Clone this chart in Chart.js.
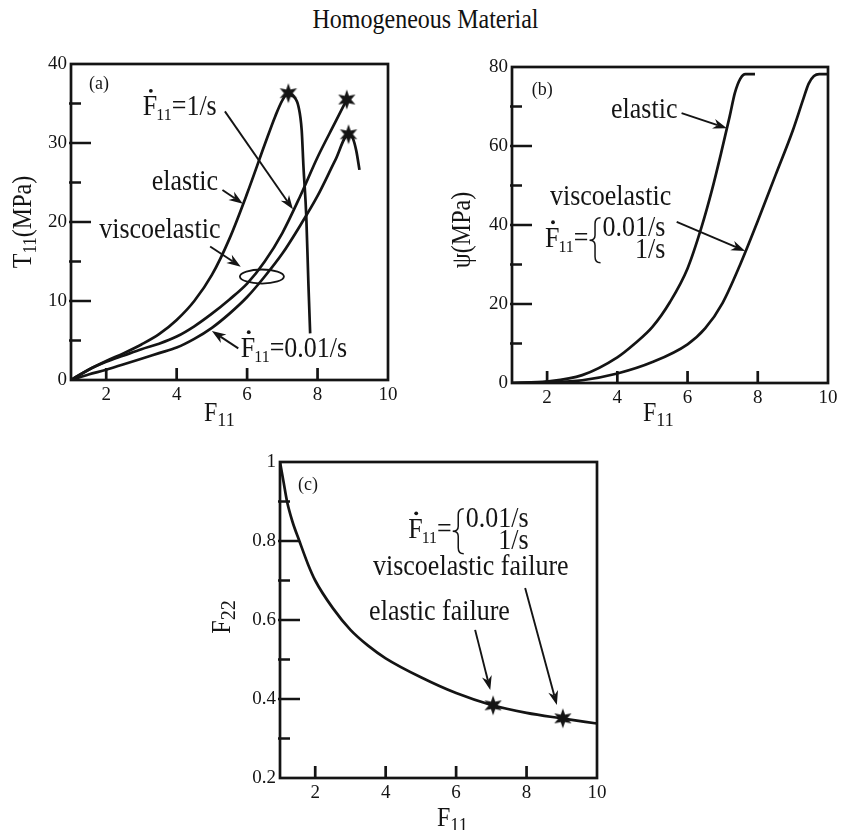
<!DOCTYPE html>
<html>
<head>
<meta charset="utf-8">
<title>Homogeneous Material</title>
<script src="https://cdn.jsdelivr.net/npm/chart.js@4.4.0/dist/chart.umd.min.js"></script>
<style>
  body { margin: 0; background: #fff; }
  #wrap { position: relative; width: 851px; height: 830px; overflow: hidden; }
  #title { position: absolute; left: 0; top: 8px; width: 851px; text-align: center;
           font: 24px/24px 'Liberation Serif', 'Times New Roman', serif; color: #111;
           transform: scaleY(1.15); transform-origin: center 20px; }
  canvas { position: absolute; }
</style>
</head>
<body>
<div id="wrap">
  <div id="title">Homogeneous Material</div>
  <canvas id="chartA" width="420" height="390" style="left:0;top:40px"></canvas>
  <canvas id="chartB" width="421" height="390" style="left:430px;top:40px"></canvas>
  <canvas id="chartC" width="420" height="395" style="left:200px;top:440px"></canvas>
</div>
<script>
const SERIF = "'Liberation Serif', 'Times New Roman', serif";
const INK = '#141414';
const STRETCH = 1.1;

// (a) T11 vs F11
const aXTicks = [2, 4, 6, 8, 10];
const aYTicks = [0, 10, 20, 30, 40];
const aYMinor = [5, 15, 25, 35];
const aElasticF = [1, 1.5, 2, 2.5, 3, 3.5, 4, 4.5, 5, 5.5, 6, 6.5, 6.8, 7.0, 7.17, 7.32, 7.46, 7.55, 7.6, 7.68, 7.74, 7.79];
const aElasticT = [0, 1.3, 2.4, 3.4, 4.5, 5.8, 7.6, 10.0, 13.3, 17.9, 23.6, 29.8, 33.4, 35.4, 36.3, 35.9, 34.6, 31.6, 27.0, 20.7, 12.2, 5.9];
const aVisc1F = [1, 1.5, 2, 2.5, 3, 3.5, 4, 4.5, 5, 5.5, 6, 6.5, 7, 7.5, 8, 8.5, 8.83];
const aVisc1T = [0, 1.3, 2.3, 3.1, 3.9, 4.6, 5.5, 6.8, 8.4, 10.2, 12.2, 15.0, 18.6, 23.2, 28.2, 32.6, 35.5];
const aVisc001F = [1, 1.5, 2, 2.5, 3, 3.5, 4, 4.5, 5, 5.5, 6, 6.5, 7, 7.5, 8, 8.5, 8.88, 9.0, 9.1, 9.19];
const aVisc001T = [0, 0.7, 1.3, 2.0, 2.7, 3.4, 4.1, 5.2, 6.6, 8.4, 10.5, 13.1, 16.0, 19.5, 23.3, 27.8, 31.1, 30.6, 29.0, 26.6];
const aFailF = [7.17, 8.83, 8.88];
const aFailT = [36.3, 35.5, 31.1];

// (b) psi vs F11
const bXTicks = [2, 4, 6, 8, 10];
const bYTicks = [0, 20, 40, 60, 80];
const bYMinor = [10, 30, 50, 70];
const bElasticF = [1, 2, 3, 4, 4.5, 5, 5.5, 6, 6.4, 6.7, 6.95, 7.2, 7.35, 7.5, 7.65, 7.92];
const bElasticPsi = [0, 0.4, 2, 6.5, 10, 14.2, 20.5, 29, 39.5, 49, 58, 67.5, 73.5, 77, 78.2, 78.2];
const bViscF = [1, 2, 3, 4, 5, 6, 6.5, 7, 7.5, 8, 8.5, 9, 9.3, 9.45, 9.6, 9.75, 10];
const bViscPsi = [0, 0.15, 0.7, 2.4, 5.3, 9.8, 13.8, 20.3, 30, 41, 52.5, 64, 72, 75.8, 77.7, 78.2, 78.2];

// (c) F22 vs F11
const cXTicks = [2, 4, 6, 8, 10];
const cYTicks = [0.2, 0.4, 0.6, 0.8, 1];
const cYMinor = [0.3, 0.5, 0.7, 0.9];
const cF11 = [1, 1.1, 1.2, 1.35, 1.55, 1.8, 2, 2.5, 3, 3.5, 4, 5, 6, 7, 8, 9, 10];
const cF22 = [1, 0.95, 0.9, 0.85, 0.8, 0.74, 0.7, 0.63, 0.575, 0.535, 0.503, 0.455, 0.415, 0.385, 0.365, 0.351, 0.338];
const cFailF = [7.05, 9.03];
const cFailF22 = [0.384, 0.351];

function pts(xs, ys) {
    return xs.map((x, i) => ({ x: x, y: ys[i] }));
}

function curve(xs, ys) {
    return {
        data: pts(xs, ys), borderColor: INK, borderWidth: 2.7, pointRadius: 0,
        fill: false, cubicInterpolationMode: 'monotone', order: 1
    };
}

function starImage() {
    const c = document.createElement('canvas');
    c.width = 22; c.height = 22;
    const g = c.getContext('2d');
    g.fillStyle = INK;
    g.beginPath();
    for (let i = 0; i < 12; i++) {
        const r = i % 2 === 0 ? 10 : 4.3;
        const a = -Math.PI / 2 + i * Math.PI / 6;
        g.lineTo(11 + r * Math.cos(a), 11 + r * Math.sin(a));
    }
    g.closePath();
    g.fill();
    return c;
}
const STAR = starImage();

function stars(xs, ys) {
    return { data: pts(xs, ys), showLine: false, pointStyle: STAR, pointRadius: 8, order: 0 };
}

// --- drawing helpers for the annotations ---
function put(ctx, str, x, y) {
    ctx.save();
    ctx.translate(x, y);
    ctx.scale(1, STRETCH);
    ctx.fillText(str, 0, 0);
    ctx.restore();
}

function text(ctx, str, x, y, size) {
    ctx.font = size + 'px ' + SERIF;
    put(ctx, str, x, y);
}

function rateSymbol(ctx, x, y) {
    ctx.font = '26px ' + SERIF;
    put(ctx, 'F', x, y);
    const w = ctx.measureText('F').width;
    ctx.beginPath();
    ctx.arc(x + 8, y - 24.5, 1.9, 0, Math.PI * 2);
    ctx.fill();
    ctx.font = '16px ' + SERIF;
    put(ctx, '11', x + w - 1, y + 5);
    return x + w - 1 + ctx.measureText('11').width;
}

function rateLabel(ctx, x, y, rate) {
    const x1 = rateSymbol(ctx, x, y);
    text(ctx, '=' + rate, x1, y, 26);
}

function brace(ctx, x, top, bottom, w) {
    const mid = (top + bottom) / 2, c = x + w / 2;
    ctx.beginPath();
    ctx.moveTo(x + w, top);
    ctx.quadraticCurveTo(c, top, c, top + 6);
    ctx.lineTo(c, mid - 5);
    ctx.quadraticCurveTo(c, mid, x, mid);
    ctx.quadraticCurveTo(c, mid, c, mid + 5);
    ctx.lineTo(c, bottom - 6);
    ctx.quadraticCurveTo(c, bottom, x + w, bottom);
    ctx.lineWidth = 1.5;
    ctx.stroke();
}

function rateBrace(ctx, x, y) {
    let x1 = rateSymbol(ctx, x, y);
    ctx.font = '26px ' + SERIF;
    put(ctx, '=', x1, y);
    x1 += ctx.measureText('=').width + 1;
    brace(ctx, x1, y - 29, y + 16, 11);
    put(ctx, '0.01/s', x1 + 13, y - 11);
    const right = x1 + 13 + ctx.measureText('0.01/s').width;
    ctx.textAlign = 'right';
    put(ctx, '1/s', right, y + 11);
    ctx.textAlign = 'left';
}

function arrow(ctx, x0, y0, x1, y1) {
    const a = Math.atan2(y1 - y0, x1 - x0);
    const L = 14, W = 5, cs = Math.cos(a), sn = Math.sin(a);
    ctx.lineWidth = 1.9;
    ctx.beginPath();
    ctx.moveTo(x0, y0);
    ctx.lineTo(x1 - L * 0.7 * cs, y1 - L * 0.7 * sn);
    ctx.stroke();
    ctx.beginPath();
    ctx.moveTo(x1, y1);
    ctx.lineTo(x1 - L * cs + W * sn, y1 - L * sn - W * cs);
    ctx.lineTo(x1 - L * 0.7 * cs, y1 - L * 0.7 * sn);
    ctx.lineTo(x1 - L * cs - W * sn, y1 - L * sn + W * cs);
    ctx.closePath();
    ctx.fill();
}

// axis title: main letter plus a subscript, optional tail
function axisTitle(ctx, x, y, main, sub, tail, subSize) {
    ctx.font = '24px ' + SERIF;
    put(ctx, main, x, y);
    let cx = x + ctx.measureText(main).width;
    ctx.font = subSize + 'px ' + SERIF;
    put(ctx, sub, cx, y + 5);
    cx += ctx.measureText(sub).width;
    if (tail) {
        ctx.font = '24px ' + SERIF;
        put(ctx, tail, cx, y);
    }
}

function titleWidth(ctx, main, sub, tail, subSize) {
    ctx.font = '24px ' + SERIF;
    let w = ctx.measureText(main).width + (tail ? ctx.measureText(tail).width : 0);
    ctx.font = subSize + 'px ' + SERIF;
    return w + ctx.measureText(sub).width;
}

function drawFrame(chart, p) {
    const ctx = chart.ctx, a = chart.chartArea;
    const sx = chart.scales.x, sy = chart.scales.y;
    ctx.save();
    ctx.strokeStyle = INK;
    ctx.lineWidth = 2.7;
    ctx.strokeRect(a.left, a.top, a.right - a.left, a.bottom - a.top);
    ctx.beginPath();
    p.xTicks.forEach(v => {
        if (v > sx.min && v < sx.max) {
            const x = sx.getPixelForValue(v);
            ctx.moveTo(x, a.bottom);
            ctx.lineTo(x, a.bottom - 12);
        }
    });
    p.yTicks.forEach(v => {
        if (v > sy.min && v < sy.max) {
            const y = sy.getPixelForValue(v);
            ctx.moveTo(a.left - 2, y);
            ctx.lineTo(a.left + 20, y);
        }
    });
    p.yMinor.forEach(v => {
        const y = sy.getPixelForValue(v);
        ctx.moveTo(a.left - 2, y);
        ctx.lineTo(a.left + 10, y);
    });
    ctx.stroke();
    ctx.restore();
}

function makePanel(id, p) {
    const deco = {
        id: 'deco',
        afterDraw(chart) {
            drawFrame(chart, p);
            const ctx = chart.ctx, a = chart.chartArea;
            const X = v => chart.scales.x.getPixelForValue(v);
            const Y = v => chart.scales.y.getPixelForValue(v);
            ctx.save();
            ctx.fillStyle = INK;
            ctx.strokeStyle = INK;
            ctx.textBaseline = 'alphabetic';
            // x title
            axisTitle(ctx, (a.left + a.right) / 2 + p.xTitleDx, a.bottom + p.xTitleDy, 'F', '11', '', 18);
            // y title, rotated
            const yt = p.yTitle;
            const w = titleWidth(ctx, yt[0], yt[1], yt[2], yt[3]);
            ctx.save();
            ctx.translate(p.yTitleX, (a.top + a.bottom) / 2 + p.yTitleDy);
            ctx.rotate(-Math.PI / 2);
            axisTitle(ctx, -w / 2, 0, yt[0], yt[1], yt[2], yt[3]);
            ctx.restore();
            p.annotate(ctx, X, Y);
            ctx.restore();
        }
    };
    return new Chart(document.getElementById(id), {
        type: 'line',
        data: { datasets: p.datasets },
        options: {
            responsive: false,
            animation: false,
            events: [],
            layout: { padding: { top: p.padTop, right: p.padRight, left: 0, bottom: 0 } },
            plugins: { legend: { display: false }, tooltip: { enabled: false } },
            scales: {
                x: {
                    type: 'linear', min: 1, max: 10,
                    grid: { display: false, drawTicks: false },
                    border: { display: false },
                    ticks: { padding: 4, color: INK, maxRotation: 0, autoSkip: false,
                             font: { family: SERIF, size: 19 }, callback: v => String(v) },
                    afterBuildTicks: s => { s.ticks = p.xTicks.map(v => ({ value: v })); },
                    afterFit: s => { s.height = p.xAxisHeight; }
                },
                y: {
                    type: 'linear', min: p.yTicks[0], max: p.yTicks[p.yTicks.length - 1],
                    grid: { display: false, drawTicks: false },
                    border: { display: false },
                    ticks: { padding: 4, color: INK, autoSkip: false,
                             font: { family: SERIF, size: 19 }, callback: v => String(v) },
                    afterBuildTicks: s => { s.ticks = p.yTicks.map(v => ({ value: v })); },
                    afterFit: s => { s.width = p.yAxisWidth; }
                }
            }
        },
        plugins: [deco]
    });
}

makePanel('chartA', {
    xTicks: aXTicks, yTicks: aYTicks, yMinor: aYMinor,
    yAxisWidth: 71, xAxisHeight: 50, padTop: 24, padRight: 32,
    xTitleDx: -25.5, xTitleDy: 41, yTitleX: 31, yTitleDy: 0,
    yTitle: ['T', '11', '(MPa)', 17],
    datasets: [
        curve(aElasticF, aElasticT),
        curve(aVisc1F, aVisc1T),
        curve(aVisc001F, aVisc001T),
        stars(aFailF, aFailT)
    ],
    annotate(ctx, X, Y) {
        text(ctx, '(a)', X(1.51), Y(36.8), 18);
        rateLabel(ctx, X(3.04), Y(33.5), '1/s');
        text(ctx, 'elastic', X(3.29), Y(24.05), 26);
        text(ctx, 'viscoelastic', X(1.8), Y(18.0), 26);
        rateLabel(ctx, X(5.82), Y(2.95), '0.01/s');
        arrow(ctx, X(5.37), Y(34.0), X(7.30), Y(21.6));
        arrow(ctx, X(5.3), Y(24.05), X(5.88), Y(22.3));
        arrow(ctx, X(4.95), Y(16.9), X(5.82), Y(14.35));
        arrow(ctx, X(5.75), Y(4.0), X(5.0), Y(6.2));
        ctx.lineWidth = 1.8;
        ctx.beginPath();
        ctx.ellipse(X(6.42), Y(13.1), X(7.045) - X(6.42), Y(12.21) - Y(13.1), 0, 0, Math.PI * 2);
        ctx.stroke();
    }
});

makePanel('chartB', {
    xTicks: bXTicks, yTicks: bYTicks, yMinor: bYMinor,
    yAxisWidth: 82, xAxisHeight: 47, padTop: 27, padRight: 23,
    xTitleDx: -27, xTitleDy: 38, yTitleX: 40, yTitleDy: 5,
    yTitle: ['\u03c8', '', '(MPa)', 17],
    datasets: [
        curve(bElasticF, bElasticPsi),
        curve(bViscF, bViscPsi)
    ],
    annotate(ctx, X, Y) {
        text(ctx, '(b)', X(1.56), Y(72.9), 18);
        text(ctx, 'elastic', X(3.82), Y(67.0), 26);
        text(ctx, 'viscoelastic', X(2.08), Y(45.1), 26);
        rateBrace(ctx, X(1.94), Y(34.5));
        arrow(ctx, X(5.83), Y(68.3), X(7.12), Y(64.5));
        arrow(ctx, X(5.69), Y(40.8), X(7.64), Y(33.4));
    }
});

makePanel('chartC', {
    xTicks: cXTicks, yTicks: cYTicks, yMinor: cYMinor,
    yAxisWidth: 80, xAxisHeight: 57, padTop: 22, padRight: 23,
    xTitleDx: -1.5, xTitleDy: 48, yTitleX: 30, yTitleDy: -3,
    yTitle: ['F', '22', '', 20],
    datasets: [
        curve(cF11, cF22),
        stars(cFailF, cFailF22)
    ],
    annotate(ctx, X, Y) {
        text(ctx, '(c)', X(1.51), Y(0.929), 18);
        rateBrace(ctx, X(4.64), Y(0.808));
        text(ctx, 'viscoelastic failure', X(3.64), Y(0.714), 26);
        text(ctx, 'elastic failure', X(3.53), Y(0.60), 26);
        arrow(ctx, X(6.54), Y(0.575), X(6.97), Y(0.423));
        arrow(ctx, X(7.96), Y(0.681), X(8.86), Y(0.385));
    }
});
</script>
</body>
</html>
